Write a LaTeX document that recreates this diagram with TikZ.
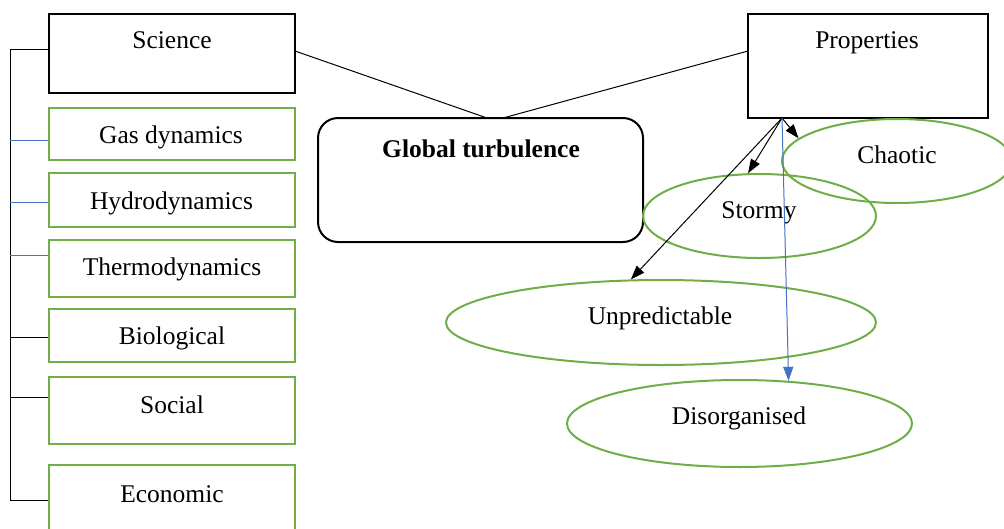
\documentclass[tikz,border=0pt]{standalone}
\usepackage{fontspec}
\setmainfont{Liberation Serif}
\usetikzlibrary{shapes.geometric,arrows.meta}
\definecolor{wgreen}{HTML}{70AD47}
\definecolor{wblue}{HTML}{4472C4}
\begin{document}
\begin{tikzpicture}[x=1pt,y=1pt,
  blackbox/.style={draw=black,line width=2pt,inner sep=0pt},
  greenbox/.style={draw=wgreen,line width=2pt,inner sep=0pt,minimum width=246pt},
  oval/.style={ellipse,draw=wgreen,line width=2pt,inner sep=0pt},
  txt/.style={anchor=base,inner sep=0pt,font=\fontsize{25.5}{30}\selectfont},
  conn/.style={draw=black,line width=1pt},
  bconn/.style={draw=wblue,line width=1pt},
  arr/.style={conn,-{Triangle[length=14pt,width=10pt]}},
  barr/.style={bconn,-{Triangle[length=14pt,width=10pt]}}]
\useasboundingbox (0,0) rectangle (1004,-528);
\clip (0,0) rectangle (1004,-528);
% left column
\node[blackbox,minimum width=246pt,minimum height=79pt] (sci) at (172,-53.5) {};
\node[txt] (scit) at (172,-48) {Science};
\node[greenbox,minimum height=52pt] (gas) at (172,-134) {};
\node[txt] (gast) at (171,-143) {Gas dynamics};
\node[greenbox,minimum height=54pt] (hyd) at (172,-200) {};
\node[txt] (hydt) at (171.5,-209) {Hydrodynamics};
\node[greenbox,minimum height=57pt] (thr) at (172,-268.5) {};
\node[txt] (thrt) at (172,-275) {Thermodynamics};
\node[greenbox,minimum height=53pt] (bio) at (172,-335.5) {};
\node[txt] (biot) at (172,-344) {Biological};
\node[greenbox,minimum height=67pt] (soc) at (172,-410.5) {};
\node[txt] (soct) at (172,-413) {Social};
\node[greenbox,minimum height=90pt] (eco) at (172,-510) {};
\node[txt] (ecot) at (172,-502) {Economic};
% bracket
\coordinate (b0) at (10,-49);
\coordinate (b1) at (10,-140);
\coordinate (b2) at (10,-202);
\coordinate (b3) at (10,-255);
\coordinate (b4) at (10,-337);
\coordinate (b5) at (10,-397);
\coordinate (b6) at (10,-500);
\draw[conn] (b0 -| sci.west) -- (b0) -- (b6) -- (b6 -| eco.west);
\draw[bconn] (b1) -- (b1 -| gas.west);
\draw[bconn] (b2) -- (b2 -| hyd.west);
\draw[bconn] (b3) -- (b3 -| thr.west);
\draw[conn] (b4) -- (b4 -| bio.west);
\draw[conn] (b5) -- (b5 -| soc.west);
% centre
\node[blackbox,rounded corners=20pt,minimum width=325pt,minimum height=124pt] (glob) at (480.5,-180) {};
\node[txt,font=\fontsize{25.5}{30}\selectfont\bfseries] (globt) at (481,-157) {Global turbulence};
\node[blackbox,minimum width=240pt,minimum height=104pt] (prop) at (868,-66) {};
\node[txt] (propt) at (867,-48) {Properties};
\coordinate (g1) at (487,-118);
\coordinate (g2) at (503,-118);
\coordinate (s1) at (295,-51);
\coordinate (p1) at (748,-51);
\draw[conn] (s1) -- (g1);
\draw[conn] (p1) -- (g2);
% ellipses
\node[oval,minimum width=230pt,minimum height=84pt] (chao) at (897,-161) {};
\node[txt] (chaot) at (897,-163) {Chaotic};
\node[oval,minimum width=233pt,minimum height=84pt] (storm) at (759.5,-216) {};
\node[txt] (stormt) at (759,-218) {Stormy};
\node[oval,minimum width=430pt,minimum height=85pt] (unp) at (661,-322.5) {};
\node[txt] (unpt) at (660,-324) {Unpredictable};
\node[oval,minimum width=345pt,minimum height=87pt] (dis) at (739.5,-423.5) {};
\node[txt] (dist) at (739,-424) {Disorganised};
% arrows
\coordinate (p) at (782,-118);
\draw[arr] (p) -- (chao.167.7);
\draw[arr] (p) -- (storm.105);
\draw[arr] (p) -- (unp.125);
\draw[barr] (p) -- (dis.41);
\end{tikzpicture}
\end{document}
